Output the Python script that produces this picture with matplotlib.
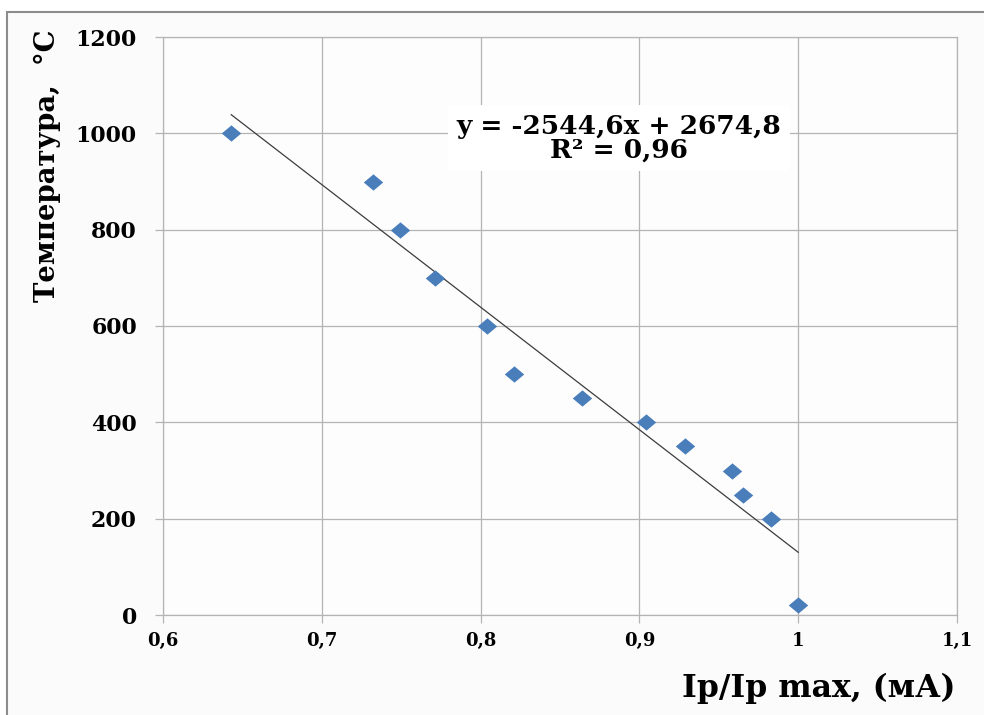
import numpy as np
import matplotlib.pyplot as plt
from matplotlib.patches import Rectangle

# measured points: relative current vs temperature
ratio = [0.643, 0.732, 0.749, 0.771, 0.804, 0.821, 0.864, 0.904, 0.929, 0.958, 0.965, 0.983, 1.0]
temperature = [1000, 900, 800, 700, 600, 500, 450, 400, 350, 300, 250, 200, 20]

# linear trend (Excel style)
slope = -2544.6
intercept = 2674.8
r2 = 0.96

x_ticks = [0.6, 0.7, 0.8, 0.9, 1.0, 1.1]
x_tick_labels = ["0,6", "0,7", "0,8", "0,9", "1", "1,1"]
y_ticks = [0, 200, 400, 600, 800, 1000, 1200]

W, H = 984, 715
grid_col = "#b4b4b4"
font = "DejaVu Serif"

fig = plt.figure(figsize=(W / 100, H / 100), dpi=100)
fig.patch.set_facecolor("white")

# outer frame of the chart area
fig.patches.append(Rectangle((7 / W, -0.1), 1.2, 1 - 12 / H + 0.1, transform=fig.transFigure,
                             facecolor="#fbfbfb", edgecolor="#8c8c8c", linewidth=1.5, zorder=-10))

left, right, top, bottom = 163 / W, 957 / W, 1 - 37 / H, 1 - 615 / H
ax = fig.add_axes([left, bottom, right - left, top - bottom])
ax.set_facecolor("#fdfdfd")

ax.set_xlim(0.6, 1.1)
ax.set_ylim(0, 1200)
ax.set_xticks(x_ticks)
ax.set_xticklabels(x_tick_labels)
ax.set_yticks(y_ticks)
ax.set_yticklabels([str(v) for v in y_ticks])

ax.grid(True, color=grid_col, linewidth=0.9)
ax.set_axisbelow(True)
for s in ax.spines.values():
    s.set_color(grid_col)
    s.set_linewidth(0.9)

ax.tick_params(axis="both", direction="out", length=5.8, width=0.9, color=grid_col)
ax.tick_params(axis="y", pad=13, labelsize=15.8)
ax.tick_params(axis="x", pad=6.5, labelsize=13)
for lab in ax.get_xticklabels() + ax.get_yticklabels():
    lab.set_fontfamily(font)
    lab.set_fontweight("bold")

# trend line over the data range
xs = np.array([min(ratio), max(ratio)])
ax.plot(xs, slope * xs + intercept, color="#3c3c3c", linewidth=0.9, zorder=2)

diamond = [(-1, 0), (0, 0.84), (1, 0), (0, -0.84), (-1, 0)]
ax.plot(ratio, temperature, linestyle="none", marker=diamond, markersize=14,
        color="#4A7EBB", markeredgewidth=0, zorder=3)

eq = "y = {:.1f}x + {:.1f}\nR² = {:.2f}".format(slope, intercept, r2).replace(".", ",")
ax.text(0.887, 990, eq, ha="center", va="center", fontsize=19, fontweight="bold",
        family=font, linespacing=0.95, zorder=4,
        bbox=dict(facecolor="white", edgecolor="none", pad=6))

fig.text(47 / W, 1 - 166 / H, "Температура,  °C", rotation=90, ha="center", va="center",
         fontsize=19.8, fontweight="bold", family=font)
fig.text(956 / W, 1 - 697 / H, "Ip/Ip max, (мА)", ha="right", va="baseline",
         fontsize=22.7, fontweight="bold", family=font)

fig.savefig("out.png", dpi=100)
